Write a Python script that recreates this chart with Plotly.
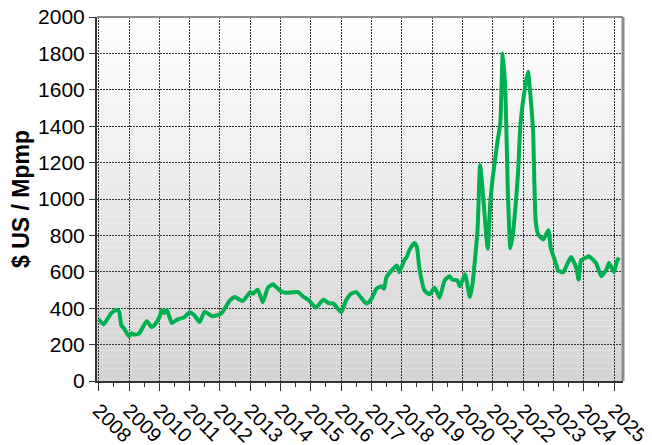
import plotly.graph_objects as go

months = ["2008-01","2008-03","2008-06","2008-08","2008-09","2008-10","2008-11","2008-12",
          "2009-01","2009-02","2009-03","2009-05","2009-08","2009-10","2009-12",
          "2010-01","2010-02","2010-03","2010-04","2010-06","2010-08","2010-11",
          "2011-01","2011-03","2011-05","2011-07","2011-10",
          "2012-01","2012-02","2012-05","2012-07","2012-10",
          "2013-01","2013-02","2013-04","2013-06","2013-08","2013-10",
          "2014-01","2014-03","2014-08","2014-10","2014-12",
          "2015-03","2015-06","2015-08","2015-10",
          "2016-01","2016-03","2016-05","2016-07","2016-11",
          "2017-01","2017-03","2017-05","2017-06","2017-07","2017-11","2017-12",
          "2018-02","2018-03","2018-04","2018-06","2018-07","2018-08","2018-10","2018-12",
          "2019-02","2019-04","2019-06","2019-08","2019-09","2019-11","2019-12",
          "2020-02","2020-04","2020-05","2020-07","2020-08","2020-09","2020-11","2020-12",
          "2021-01","2021-03","2021-04","2021-05","2021-06","2021-07","2021-08","2021-09",
          "2021-10","2021-11","2021-12",
          "2022-02","2022-03","2022-04","2022-05","2022-06","2022-07","2022-09","2022-11","2022-12",
          "2023-02","2023-03","2023-05","2023-06","2023-08","2023-10","2023-11","2023-12",
          "2024-02","2024-03","2024-05","2024-06","2024-08","2024-10","2024-11",
          "2025-01","2025-02","2025-03"]

prices = [340, 311, 373, 392, 384, 305, 290, 265,
          245, 262, 255, 260, 329, 296, 324,
          350, 388, 373, 392, 318, 337, 351,
          378, 360, 324, 380, 356,
          366, 378, 443, 461, 439,
          488, 480, 502, 433, 513, 531,
          494, 485, 488, 463, 447,
          403, 447, 428, 425,
          378, 443, 480, 488, 425,
          452, 507, 520, 507, 571, 635, 598,
          665, 681, 718, 758, 736, 617, 498, 476,
          513, 458, 553, 575, 557, 553, 520,
          586, 461, 530, 828, 1185, 1048, 727, 975,
          1121, 1323, 1415, 1800, 1600, 1050, 730, 810,
          956, 1140, 1415,
          1635, 1699, 1561, 1378, 883, 806, 777, 828, 730,
          645, 606, 598, 626, 681, 626, 557, 663,
          678, 685, 663, 645, 575, 612, 648,
          598, 653, 678]

years = [str(y) for y in range(2008, 2026)]
year_ticks = [y + "-01-01" for y in years]
y_ticks = list(range(0, 2001, 200))

fig = go.Figure()

fig.add_trace(go.Scatter(
    x=months, y=prices, mode="lines",
    line=dict(color="#00b050", width=4, shape="spline", smoothing=0.5),
    showlegend=False, hoverinfo="skip"))

# vertical gradient background (white top -> light grey bottom)
n = 60
shapes = []
for i in range(n):
    t = i / (n - 1)
    c = int(round(255 - (255 - 212) * (1 - t)))
    shapes.append(dict(type="rect", xref="paper", yref="paper",
                       x0=0, x1=1, y0=i / n, y1=(i + 1) / n,
                       fillcolor=f"rgb({c},{c},{c})", line=dict(width=0),
                       layer="below"))
# top and right border in grey
shapes.append(dict(type="line", xref="paper", yref="paper", x0=0, x1=1, y0=1, y1=1,
                   line=dict(color="#8c8c8c", width=2), layer="above"))
shapes.append(dict(type="line", xref="paper", yref="paper", x0=1, x1=1, y0=0, y1=1,
                   line=dict(color="#8c8c8c", width=3), layer="above"))

font_main = "Liberation Sans, Arial, sans-serif"

# page body adds an 8px offset, so the figure is sized 644x437
fig.update_layout(
    width=644, height=437,
    margin=dict(l=89, r=29, t=9, b=64, autoexpand=False),
    paper_bgcolor="white",
    plot_bgcolor="rgba(0,0,0,0)",
    shapes=shapes,
    font=dict(family=font_main, size=21, color="black"),
    xaxis=dict(
        type="date", automargin=False, ticklabeloverflow="allow",
        range=["2007-12-12", "2025-04-19"],
        tickmode="array", tickvals=year_ticks, ticktext=years,
        tickangle=45,
        showgrid=True, gridcolor="#333", griddash="2px,1px", gridwidth=1,
        showline=True, linecolor="#333", linewidth=2,
        ticks="outside", ticklen=8, tickcolor="#333", tickwidth=1,
        minor=dict(dtick="M6", tick0="2008-01-01", ticks="outside", ticklen=4,
                   tickcolor="#333", showgrid=False),
        tickfont=dict(family=font_main, size=20),
        zeroline=False,
    ),
    yaxis=dict(
        automargin=False, ticklabeloverflow="allow",
        range=[0, 2000],
        tickmode="array", tickvals=y_ticks,
        showgrid=True, gridcolor="#333", griddash="2px,1px", gridwidth=1,
        showline=True, linecolor="#333", linewidth=2,
        ticks="outside", ticklen=6, tickcolor="#333",
        tickfont=dict(family=font_main, size=21),
        zeroline=False,
        title=dict(text="<b>$ US / Mpmp</b>", font=dict(family=font_main, size=23),
                   standoff=6),
    ),
)

fig.write_html("out.html")
